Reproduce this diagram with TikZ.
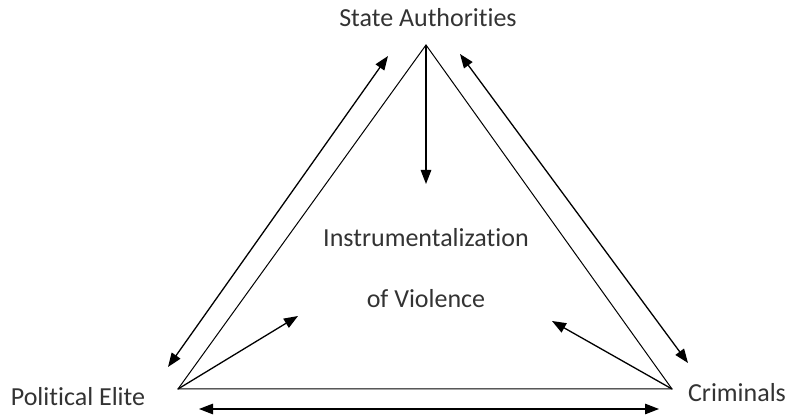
\documentclass[tikz,border=0pt]{standalone}
\usepackage{fontspec}
\setmainfont[Ligatures=NoCommon]{Carlito}
\usepackage{tikz}
\usetikzlibrary{arrows.meta,positioning}

\begin{document}
\begin{tikzpicture}[x=1pt,y=-1pt,
		arrow/.style = {line width=1.3pt,-{Triangle[length=14pt,width=10.5pt]}},
		twoway/.style = {line width=1.3pt,{Triangle[length=14pt,width=10.5pt]}-{Triangle[length=14pt,width=10.5pt]}}]
	\tikzset{actor/.style={inner sep=0pt,text=black!80,font=\fontsize{26}{30}\selectfont}}
	\useasboundingbox (0,0) rectangle (787,419);

	% corners of the triangle
	\coordinate (sa) at (426,45);
	\coordinate (pe) at (178,389);
	\coordinate (cr) at (672,389);

	% labels
	\node[actor] (lblsa) at (428,18) {State Authorities};
	\node[actor] (lblpe) at (78,397) {Political Elite};
	\node[actor] (lblcr) at (737,393) {Criminals};
	\node[actor] (instr) at (426,238) {Instrumentalization};
	\node[actor] (viol) at (426,299) {of Violence};

	% triangle
	\draw[line width=1pt] (sa) -- (pe) -- (cr) -- cycle;

	% arrow ends
	\coordinate (l1) at (388,56);
	\coordinate (l2) at (168,367);
	\coordinate (r1) at (460,54);
	\coordinate (r2) at (688,363);
	\coordinate (b1) at (199,409);
	\coordinate (b2) at (659,409);
	\coordinate (down) at (426,184);
	\coordinate (lin) at (298,316);
	\coordinate (rin) at (552,321);

	\draw[twoway] (l1) -- (l2);
	\draw[twoway] (r1) -- (r2);
	\draw[twoway] (b1) -- (b2);
	\draw[arrow] (sa) -- (down);
	\draw[arrow] (pe) -- (lin);
	\draw[arrow] (cr) -- (rin);

\end{tikzpicture}
\end{document}
